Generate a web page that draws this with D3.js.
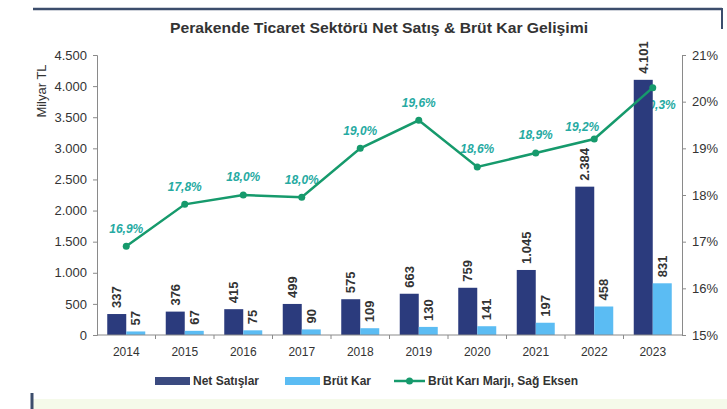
<!DOCTYPE html>
<html>
<head>
<meta charset="utf-8">
<script src="https://cdn.jsdelivr.net/npm/d3@7/dist/d3.min.js"></script>
<style>
  html, body { margin: 0; padding: 0; background: #ffffff; }
  svg { display: block; font-family: "Liberation Sans", Arial, sans-serif; }
</style>
</head>
<body>
<svg id="chart" width="727" height="409"></svg>
<script>
// Years on the category axis
const years = ["2014", "2015", "2016", "2017", "2018", "2019", "2020", "2021", "2022", "2023"];
// Net sales, billion TL
const netSales = [337, 376, 415, 499, 575, 663, 759, 1045, 2384, 4101];
// Gross profit, billion TL
const grossProfit = [57, 67, 75, 90, 109, 130, 141, 197, 458, 831];
// Gross profit margin, % (right axis)
const grossMargin = [16.9, 17.8, 18.0, 17.95, 19.0, 19.6, 18.6, 18.9, 19.2, 20.3];
const marginLabels = ["16,9%", "17,8%", "18,0%", "18,0%", "19,0%", "19,6%", "18,6%", "18,9%", "19,2%", "20,3%"];
// Axis ticks
const leftTicks = [0, 500, 1000, 1500, 2000, 2500, 3000, 3500, 4000, 4500];
const rightTicks = [15, 16, 17, 18, 19, 20, 21];
// Text
const titleText = "Perakende Ticaret Sektörü Net Satış & Brüt Kar Gelişimi";
const yTitleText = "Milyar TL";
const seriesNames = ["Net Satışlar", "Brüt Kar", "Brüt Karı Marjı, Sağ Eksen"];

const C_NET = "#2b3b7d";
const C_GROSS = "#5bbcf3";
const C_LINE = "#169a6c";
const C_LABEL = "#26aaa2";
const C_TEXT = "#333333";
const C_AXIS = "#8a8a8a";
const C_FRAME = "#3c4d6c";

const svg = d3.select("#chart");
const plot = { left: 97, right: 682, top: 55, bottom: 335 };

const fmt = d3.formatLocale({ decimal: ",", thousands: ".", grouping: [3], currency: ["", ""] });
const fmtInt = fmt.format(",d");

const x = d3.scaleBand().domain(years).range([plot.left, plot.right]).padding(0);
const yL = d3.scaleLinear().domain([0, 4500]).range([plot.bottom, plot.top]);
const yR = d3.scaleLinear().domain([15, 21]).range([plot.bottom, plot.top]);
const barW = 19;
const cx = d => x(d) + x.bandwidth() / 2;

// Page frame
svg.append("line").attr("x1", 33).attr("x2", 722).attr("y1", 9).attr("y2", 9)
  .attr("stroke", C_FRAME).attr("stroke-width", 2.5);
svg.append("line").attr("x1", 722).attr("x2", 722).attr("y1", 8).attr("y2", 29)
  .attr("stroke", C_FRAME).attr("stroke-width", 2);
svg.append("rect").attr("x", 33).attr("y", 399).attr("width", 694).attr("height", 10)
  .attr("fill", "#f5faea");
svg.append("line").attr("x1", 32).attr("x2", 32).attr("y1", 393).attr("y2", 409)
  .attr("stroke", C_FRAME).attr("stroke-width", 3);

// Title
svg.append("text").attr("x", 379).attr("y", 33).attr("text-anchor", "middle")
  .attr("font-size", 15).attr("font-weight", "bold").attr("fill", C_TEXT)
  .attr("textLength", 418).attr("lengthAdjust", "spacingAndGlyphs")
  .text(titleText);

// Left axis
const axL = svg.append("g").attr("transform", `translate(${plot.left},0)`)
  .call(d3.axisLeft(yL).tickValues(leftTicks).tickSize(4).tickPadding(6).tickFormat(fmtInt));
// Right axis
const axR = svg.append("g").attr("transform", `translate(${plot.right},0)`)
  .call(d3.axisRight(yR).tickValues(rightTicks).tickSize(4).tickPadding(6).tickFormat(d => d + "%"));
[axL, axR].forEach(g => {
  g.select(".domain").attr("stroke", C_AXIS);
  g.selectAll(".tick line").attr("stroke", C_AXIS);
  g.selectAll(".tick text").attr("font-size", 13).attr("fill", C_TEXT)
    .attr("font-family", "'Liberation Sans', Arial, sans-serif");
});

svg.append("text").attr("transform", `translate(46,91) rotate(-90)`)
  .attr("text-anchor", "middle").attr("font-size", 13).attr("fill", C_TEXT)
  .text(yTitleText);

// Margin labels (drawn under the bars, the last one tucks behind the 2023 bar)
const n = grossMargin.length;
svg.append("g").selectAll("text").data(grossMargin).join("text")
  .attr("x", (d, i) => cx(years[i]) + (i === n - 1 ? 6 : i === n - 2 ? -12 : 0))
  .attr("y", (d, i) => yR(d) + (i === n - 1 ? 17 : i === n - 2 ? -12 : -18))
  .attr("dy", "0.36em").attr("text-anchor", "middle")
  .attr("font-size", 12).attr("font-weight", "bold").attr("font-style", "italic")
  .attr("fill", C_LABEL).text((d, i) => marginLabels[i]);

// Bars
const bars = svg.append("g");
bars.selectAll("rect.net").data(years).join("rect").attr("class", "net")
  .attr("x", d => cx(d) - barW).attr("width", barW)
  .attr("y", (d, i) => yL(netSales[i])).attr("height", (d, i) => plot.bottom - yL(netSales[i]))
  .attr("fill", C_NET);
bars.selectAll("rect.gross").data(years).join("rect").attr("class", "gross")
  .attr("x", d => cx(d)).attr("width", barW)
  .attr("y", (d, i) => yL(grossProfit[i])).attr("height", (d, i) => plot.bottom - yL(grossProfit[i]))
  .attr("fill", C_GROSS);

// Category axis
const axB = svg.append("g").attr("transform", `translate(0,${plot.bottom})`);
axB.append("line").attr("x1", plot.left).attr("x2", plot.right).attr("y1", 0).attr("y2", 0)
  .attr("stroke", C_AXIS);
axB.selectAll("line.tk").data(years.slice(1)).join("line").attr("class", "tk")
  .attr("x1", d => x(d)).attr("x2", d => x(d)).attr("y1", 0).attr("y2", 4).attr("stroke", C_AXIS);
axB.selectAll("text").data(years).join("text")
  .attr("x", d => cx(d)).attr("y", 21).attr("text-anchor", "middle")
  .attr("font-size", 12).attr("fill", C_TEXT).text(d => d);

// Bar value labels (rotated)
const valLabel = (vals, off) => svg.append("g").selectAll("text").data(years).join("text")
  .attr("transform", (d, i) => `translate(${cx(d) + off},${yL(vals[i]) - 6}) rotate(-90)`)
  .attr("dy", "0.36em").attr("text-anchor", "start")
  .attr("font-size", 13).attr("font-weight", "bold").attr("fill", C_TEXT)
  .text((d, i) => fmtInt(vals[i]));
valLabel(netSales, -barW / 2);
valLabel(grossProfit, barW / 2);

// Margin line
const line = d3.line().x((d, i) => cx(years[i])).y(d => yR(d));
svg.append("path").datum(grossMargin).attr("d", line)
  .attr("fill", "none").attr("stroke", C_LINE).attr("stroke-width", 2.5);
svg.append("g").selectAll("circle").data(grossMargin).join("circle")
  .attr("cx", (d, i) => cx(years[i])).attr("cy", d => yR(d)).attr("r", 3.5).attr("fill", C_LINE);

// Legend
const lg = svg.append("g").attr("transform", "translate(0,381)");
lg.append("rect").attr("x", 155).attr("y", -4).attr("width", 35).attr("height", 8).attr("fill", "#3b4a80");
lg.append("text").attr("x", 193).attr("y", 0).attr("dy", "0.36em").attr("font-size", 12)
  .attr("font-weight", "bold").attr("fill", C_TEXT).text(seriesNames[0]);
lg.append("rect").attr("x", 285).attr("y", -4).attr("width", 35).attr("height", 8).attr("fill", C_GROSS);
lg.append("text").attr("x", 323).attr("y", 0).attr("dy", "0.36em").attr("font-size", 12)
  .attr("font-weight", "bold").attr("fill", C_TEXT).text(seriesNames[1]);
lg.append("line").attr("x1", 394).attr("x2", 425).attr("y1", 0).attr("y2", 0)
  .attr("stroke", C_LINE).attr("stroke-width", 2.5);
lg.append("circle").attr("cx", 409.5).attr("cy", 0).attr("r", 3.5).attr("fill", C_LINE);
lg.append("text").attr("x", 428).attr("y", 0).attr("dy", "0.36em").attr("font-size", 12)
  .attr("font-weight", "bold").attr("fill", C_TEXT).text(seriesNames[2]);
</script>
</body>
</html>
